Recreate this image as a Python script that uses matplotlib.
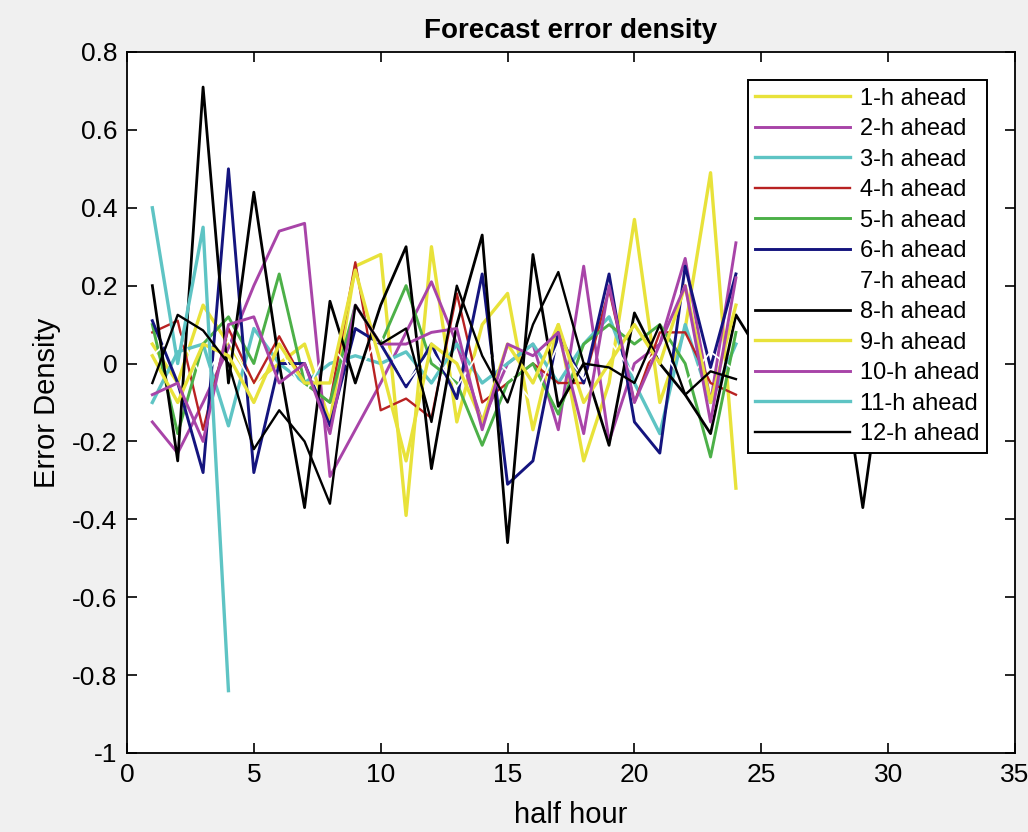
import numpy as np
import matplotlib
matplotlib.use("Agg")
import matplotlib.pyplot as plt

plt.rcParams['font.family'] = ['Liberation Sans', 'DejaVu Sans']

labels = ["1-h ahead", "2-h ahead", "3-h ahead", "4-h ahead", "5-h ahead", "6-h ahead",
          "7-h ahead", "8-h ahead", "9-h ahead", "10-h ahead", "11-h ahead", "12-h ahead"]
colors = ["#e8e23a", "#a844a8", "#5ec4c4", "#b82222", "#4cb048", "#14147e",
          "#ffffff", "#000000", "#e8e23a", "#a844a8", "#5ec4c4", "#000000"]

x24 = list(range(1, 25))

h1 = [0.05, -0.05, 0.15, 0.05, -0.05, 0.00, 0.05, -0.15, 0.25, 0.28, -0.39, 0.30,
      -0.15, 0.10, 0.18, -0.17, 0.10, -0.25, -0.05, 0.37, -0.10, 0.09, 0.49, -0.32]
h2 = [-0.15, -0.23, -0.10, 0.04, 0.20, 0.34, 0.36, -0.29, -0.17, -0.05, 0.08, 0.21,
      0.05, -0.15, 0.00, 0.05, -0.17, 0.25, -0.20, 0.00, 0.05, 0.27, -0.10, 0.31]
h3 = [-0.10, 0.03, 0.05, -0.16, 0.09, 0.00, -0.05, 0.00, 0.02, 0.00, 0.03, -0.05,
      0.05, -0.05, 0.00, 0.05, -0.05, 0.05, 0.12, -0.05, -0.18, 0.10, -0.10, 0.05]
h4 = [0.08, 0.11, -0.17, 0.09, -0.05, 0.07, -0.05, -0.10, 0.26, -0.12, -0.09, -0.14,
      0.18, -0.10, -0.05, 0.00, -0.05, -0.05, 0.19, -0.10, 0.08, 0.08, -0.05, -0.08]
h5 = [0.10, -0.18, 0.05, 0.12, 0.00, 0.23, -0.05, -0.10, 0.15, 0.05, 0.20, 0.00,
      -0.05, -0.21, -0.05, 0.00, -0.13, 0.05, 0.10, 0.05, 0.10, 0.00, -0.24, 0.08]
h6 = [0.11, -0.05, -0.28, 0.50, -0.28, 0.00, 0.00, -0.16, 0.09, 0.05, -0.06, 0.05,
      -0.09, 0.23, -0.31, -0.25, 0.08, -0.05, 0.23, -0.15, -0.23, 0.25, -0.01, 0.23]
h7 = [0.02, 0.08, -0.04, 0.06, -0.06, 0.04, -0.08, 0.05, -0.03, 0.07, -0.05, 0.03,
      -0.06, 0.04, -0.02, -0.10, 0.05, -0.04, 0.06, -0.03, 0.04, -0.05, 0.03, -0.02]
x8 = list(range(1, 31))
h8 = [0.20, -0.25, 0.71, -0.05, 0.44, 0.00, -0.37, 0.16, -0.05, 0.15, 0.30, -0.27,
      0.10, 0.33, -0.46, 0.28, -0.11, 0.00, -0.21, 0.13, 0.00, -0.08, -0.18, 0.125,
      0.02, 0.10, 0.00, 0.07, -0.37, 0.10]
h9 = [0.02, -0.10, 0.05, 0.02, -0.10, 0.05, -0.05, -0.05, 0.24, 0.00, -0.25, 0.05,
      0.00, -0.15, 0.05, -0.05, 0.10, -0.10, 0.00, 0.10, 0.00, 0.20, -0.10, 0.15]
h10 = [-0.08, -0.05, -0.20, 0.10, 0.12, -0.05, 0.00, -0.18, 0.15, 0.05, 0.05, 0.08,
       0.09, -0.17, 0.05, 0.02, 0.08, -0.18, 0.20, -0.10, 0.05, 0.20, -0.15, 0.22]
x11 = [1, 2, 3, 4]
h11 = [0.40, 0.00, 0.35, -0.84]
h12 = [-0.05, 0.125, 0.085, 0.00, -0.22, -0.12, -0.20, -0.36, 0.15, 0.05, 0.09, -0.15,
       0.20, 0.02, -0.10, 0.10, 0.235, 0.00, -0.01, -0.05, 0.10, -0.08, -0.02, -0.04]

xs = [x24, x24, x24, x24, x24, x24, x24, x8, x24, x24, x11, x24]
ys = [h1, h2, h3, h4, h5, h6, h7, h8, h9, h10, h11, h12]
widths = [2.4, 2.1, 2.4, 1.7, 2.1, 2.1, 1.3, 2.0, 2.4, 2.1, 2.4, 1.7]

fig = plt.figure(figsize=(10.28, 8.32), dpi=100, facecolor="#f0f0f0")
ax = fig.add_axes([0.1235, 0.095, 0.8639, 0.8425])
ax.set_facecolor("white")

for xv, yv, c, lab, w in zip(xs, ys, colors, labels, widths):
    ax.plot(xv, yv, color=c, lw=w, label=lab)

ax.set_xlim(0, 35)
ax.set_ylim(-1, 0.8)
ax.set_xticks(range(0, 36, 5))
yt = [-1, -0.8, -0.6, -0.4, -0.2, 0, 0.2, 0.4, 0.6, 0.8]
ax.set_yticks(yt)
ax.set_yticklabels(["-1", "-0.8", "-0.6", "-0.4", "-0.2", "0", "0.2", "0.4", "0.6", "0.8"])
ax.tick_params(direction="in", length=7, width=1.2, top=True, right=True,
               labelsize=19, pad=7)
for s in ax.spines.values():
    s.set_linewidth(1.3)

ax.set_title("Forecast error density", fontsize=20, fontweight="bold", pad=10)
ax.set_xlabel("half hour", fontsize=21, labelpad=10)
ax.set_ylabel("Error Density", fontsize=21, labelpad=8)

leg = ax.legend(loc="upper right", bbox_to_anchor=(0.968, 0.96), borderaxespad=0,
                fontsize=17, frameon=True, fancybox=False, handlelength=4.0,
                labelspacing=0.36, handletextpad=0.42, borderpad=0.32)
leg.get_frame().set_edgecolor("black")
leg.get_frame().set_linewidth(1.4)
leg.get_frame().set_alpha(1)

fig.savefig("out.png", dpi=100, facecolor=fig.get_facecolor())
